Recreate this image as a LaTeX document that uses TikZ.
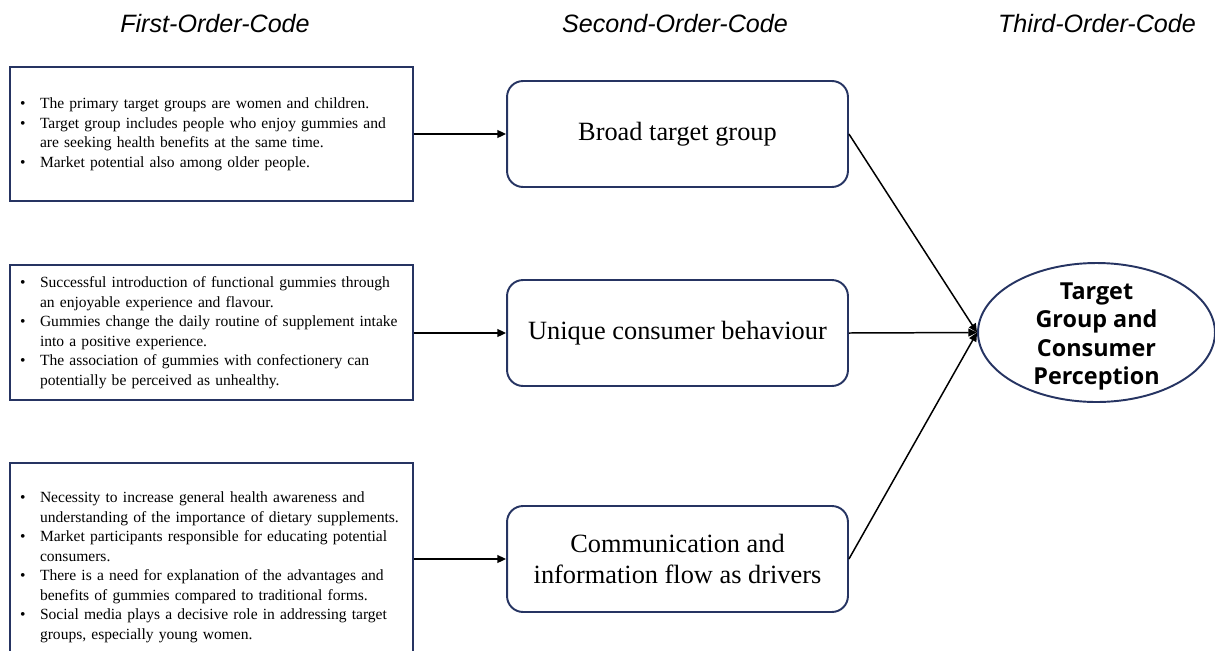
\documentclass[tikz,border=0pt]{standalone}
\usepackage{fontspec}
\setmainfont{Liberation Serif}
\newfontfamily\headfont{Liberation Sans}
\newfontfamily\ovalfont{Open Sans}
\usepackage{xcolor}
\usetikzlibrary{arrows.meta, shapes.geometric, positioning}
\definecolor{boxblue}{RGB}{38,52,98}
\newcommand{\bl}{\textbullet}

\begin{document}
\begin{tikzpicture}[x=0.02cm, y=-0.02cm,
    head/.style={font=\headfont\itshape\fontsize{14.3}{16}\selectfont, anchor=base},
    codebox/.style={rectangle, draw=boxblue, line width=1.1pt, inner xsep=0.2cm, text width=7.66cm, align=left, font=\fontsize{8.85}{11.1}\selectfont},
    midbox/.style={rectangle, rounded corners=0.32cm, draw=boxblue, line width=1.1pt, minimum width=6.82cm, minimum height=2.12cm, align=center, font=\fontsize{15}{18}\selectfont},
    oval/.style={ellipse, draw=boxblue, line width=1.1pt, minimum width=4.74cm, minimum height=2.78cm, inner sep=0pt},
    ovaltext/.style={align=center, font=\ovalfont\bfseries\fontsize{13.3}{16}\selectfont},
    flow/.style={-{Triangle[length=5pt, width=4.5pt]}, line width=0.85pt}]

        \useasboundingbox (0,0) rectangle (1215,650);

        \node[head] (h1) at (215,32) {First-Order-Code};
        \node[head] (h2) at (675,32) {Second-Order-Code};
        \node[head] (h3) at (1097,32) {Third-Order-Code};

        \node[codebox, minimum height=2.68cm] (f1) at (211.5,134) {\begin{tabular}{@{}p{0.4cm}@{}l@{}}
                    \bl & The primary target groups are women and children.\\
                    \bl & Target group includes people who enjoy gummies and\\
                        & are seeking health benefits at the same time.\\
                    \bl & Market potential also among older people.
                \end{tabular}};

        \node[codebox, minimum height=2.70cm] (f2) at (211.5,332.5) {\begin{tabular}{@{}p{0.4cm}@{}l@{}}
                    \bl & Successful introduction of functional gummies through\\
                        & an enjoyable experience and flavour.\\
                    \bl & Gummies change the daily routine of supplement intake\\
                        & into a positive experience.\\
                    \bl & The association of gummies with confectionery can\\
                        & potentially be perceived as unhealthy.
                \end{tabular}};

        \node[codebox, minimum height=4.16cm] (f3) at (211.5,567) {\begin{tabular}{@{}p{0.4cm}@{}l@{}}
                    \bl & Necessity to increase general health awareness and\\
                        & understanding of the importance of dietary supplements.\\
                    \bl & Market participants responsible for educating potential\\
                        & consumers.\\
                    \bl & There is a need for explanation of the advantages and\\
                        & benefits of gummies compared to traditional forms.\\
                    \bl & Social media plays a decisive role in addressing target\\
                        & groups, especially young women.
                \end{tabular}};

        \node[midbox] (s1) at (677.5,134) {Broad target group};
        \node[midbox] (s2) at (677.5,333) {Unique consumer behaviour};
        \node[midbox] (s3) at (677.5,559) {Communication and\\information flow as drivers};

        \node[oval] (t) at (1096.5,332.5) {};
        \node[ovaltext] (tlab) at ([yshift=-0.08cm]t.center) {Target\\Group and\\Consumer\\Perception};

        \path[flow]
        (f1.east |- s1.west) edge (s1.west)
        (f2.east |- s2.west) edge (s2.west)
        (f3.east |- s3.west) edge (s3.west)
        (s1.east) edge (t.west)
        (s2.east) edge (t.west)
        (s3.east) edge (t.west);

    \end{tikzpicture}
\end{document}
